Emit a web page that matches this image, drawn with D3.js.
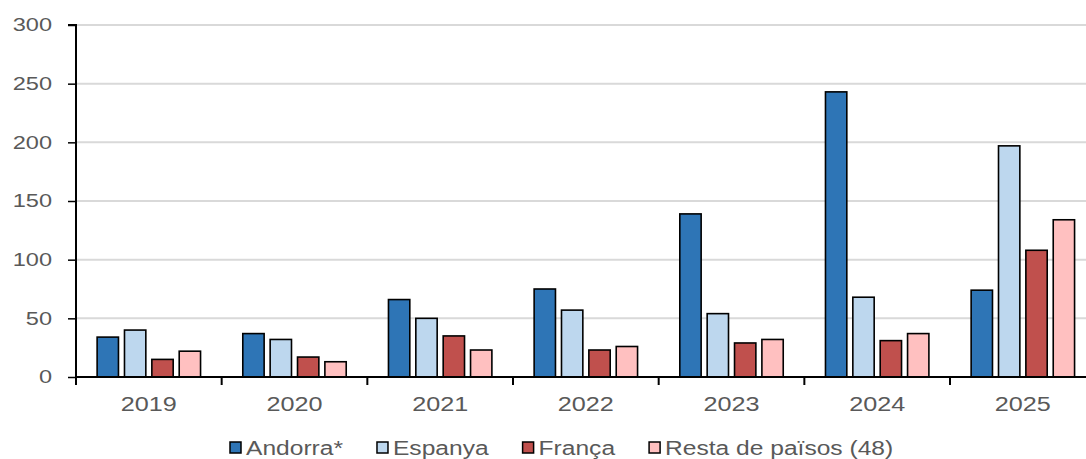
<!DOCTYPE html>
<html><head><meta charset="utf-8">
<script src="https://cdn.jsdelivr.net/npm/d3@7"></script>
<style>body{margin:0;background:#fff}svg{display:block;font-family:"Liberation Sans",Arial,sans-serif}</style>
</head><body>
<svg id="c" width="1086" height="459"></svg>
<script>
const years = ["2019","2020","2021","2022","2023","2024","2025"];
const seriesNames = ["Andorra*","Espanya","França","Resta de països (48)"];
const andorra = [34, 37, 66, 75, 139, 243, 74];
const espanya = [40, 32, 50, 57, 54, 68, 197];
const franca  = [15, 17, 35, 23, 29, 31, 108];
const resta   = [22, 13, 23, 26, 32, 37, 134];
const yTicks = [0, 50, 100, 150, 200, 250, 300];
const colors = ["#2E75B6", "#BDD7EE", "#C0504D", "#FFC0C0"];
const series = [andorra, espanya, franca, resta];

const STRETCH = 1.26;
function stretch(sel) {
  sel.each(function() {
    const w = this.getComputedTextLength();
    d3.select(this).attr("textLength", w * STRETCH).attr("lengthAdjust", "spacingAndGlyphs");
  });
}

const svg = d3.select("#c");
const m = {l: 76, t: 25, b: 377};
const xEnd = 76 + 7 * 145.67;
const x = d3.scaleBand().domain(years).range([m.l, xEnd]).paddingInner(0.29).paddingOuter(0.145);
const x0 = d3.scaleBand().domain(years).range([m.l, xEnd]);
const xs = d3.scaleBand().domain(d3.range(4)).range([0, x.bandwidth()]).paddingInner(0.22);
const y = d3.scaleLinear().domain([0, 300]).range([m.b, m.t]);

// gridlines
svg.append("g").selectAll("line").data(yTicks.slice(1)).join("line")
  .attr("x1", m.l).attr("x2", 1086).attr("y1", d => y(d)).attr("y2", d => y(d))
  .attr("stroke", "#d9d9d9").attr("stroke-width", 2);

// bars
const g = svg.append("g");
series.forEach((vals, si) => {
  g.append("g").selectAll("rect").data(vals).join("rect")
    .attr("x", (d, i) => x(years[i]) + xs(si))
    .attr("y", d => y(d))
    .attr("width", xs.bandwidth())
    .attr("height", d => y(0) - y(d))
    .attr("fill", colors[si]).attr("stroke", "#000").attr("stroke-width", 1.6);
});

// y axis
const ya = d3.axisLeft(y).tickValues(yTicks).tickSize(8).tickPadding(16);
const yg = svg.append("g").attr("transform", `translate(${m.l},0)`).call(ya);
yg.select(".domain").attr("stroke", "#000").attr("stroke-width", 2).attr("d", `M-8,${m.t}H0V${m.b}`);
yg.selectAll(".tick line").attr("stroke", "#000").attr("stroke-width", 1.5);
yg.selectAll("text").attr("fill", "#595959").attr("font-size", 18.7).call(stretch);

// x axis
const xa = d3.axisBottom(x0).tickSize(0).tickPadding(20);
const xg = svg.append("g").attr("transform", `translate(0,${m.b})`).call(xa);
xg.select(".domain").attr("stroke", "#000").attr("stroke-width", 2).attr("d", `M${m.l},0H1086`);
xg.selectAll("text").attr("fill", "#595959").attr("font-size", 20).call(stretch);
svg.append("g").selectAll("line").data(years).join("line")
  .attr("x1", d => x0(d)).attr("x2", d => x0(d)).attr("y1", m.b).attr("y2", m.b + 8)
  .attr("stroke", "#000").attr("stroke-width", 2);

// legend
const lg = svg.append("g");
let lx = 230;
seriesNames.forEach((n, i) => {
  lg.append("rect").attr("x", lx).attr("y", 442).attr("width", 11).attr("height", 11)
    .attr("fill", colors[i]).attr("stroke", "#000").attr("stroke-width", 1.5);
  const t = lg.append("text").attr("x", lx + 16).attr("y", 455).text(n)
    .attr("fill", "#595959").attr("font-size", 19.5);
  t.call(stretch);
  lx += 16 + (+t.attr("textLength")) + 34;
});
</script>
</body></html>
